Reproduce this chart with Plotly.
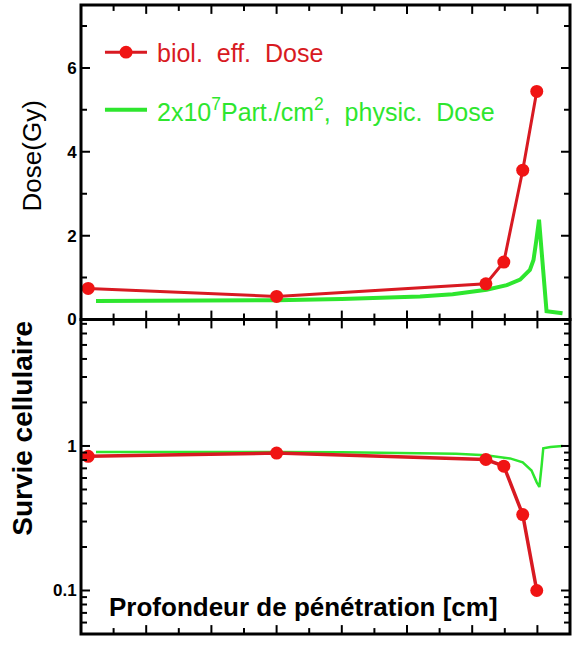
import math
import plotly.graph_objects as go
from plotly.subplots import make_subplots

# ---- data (x in tick units along penetration depth) ----
bio_x = [0.22, 6.0, 12.42, 12.97, 13.55, 13.98]
bio_dose = [0.74, 0.55, 0.85, 1.37, 3.56, 5.44]
bio_surv = [0.848, 0.893, 0.806, 0.725, 0.335, 0.10]

phys_x = [0.46, 2.0, 4.0, 6.0, 8.0, 9.4, 10.4, 11.4, 12.0, 12.44, 13.06, 13.47,
          13.77, 13.88, 13.96, 14.05, 14.28, 14.5, 14.77]
phys_dose = [0.44, 0.44, 0.45, 0.46, 0.49, 0.52, 0.55, 0.60, 0.65, 0.71, 0.82, 0.95,
             1.18, 1.42, 1.85, 2.38, 0.20, 0.17, 0.15]

surv_x = [0.46, 3.0, 6.0, 8.0, 9.8, 11.5, 12.42, 13.16, 13.55, 13.82, 13.98, 14.06,
          14.13, 14.18, 14.4, 14.77]
surv_phys = [0.91, 0.915, 0.91, 0.905, 0.90, 0.885, 0.864, 0.82, 0.77, 0.676, 0.56,
             0.52, 0.73, 0.965, 0.985, 1.0]

# tick positions
x_ticks = list(range(0, 16))
x_major = [0, 2, 4, 6, 8, 10, 12, 14]
dose_ticks = [0, 1, 2, 3, 4, 5, 6, 7]
dose_major = [0, 2, 4, 6]
surv_ticks = [0.06, 0.07, 0.08, 0.09, 0.1, 0.2, 0.3, 0.4, 0.5, 0.6, 0.7, 0.8, 0.9,
              1, 2, 3, 4, 5, 6, 7]
surv_major = [0.1, 1]
surv_labels = ["0.1", "1"]

X_RANGE = [0, 15]
DOSE_RANGE = [0, 7.5]
SURV_LOG_RANGE = [-1.301, 0.875]

RED_LINE = "#d81a22"
RED_MARK = "#f01414"
GREEN = "#2ee62e"
CLEAR = "rgba(0,0,0,0)"

fig = make_subplots(rows=2, cols=1, shared_xaxes=True, vertical_spacing=0)

fig.add_trace(go.Scatter(x=phys_x, y=phys_dose, mode="lines",
                         line=dict(color=GREEN, width=4), showlegend=False), row=1, col=1)
fig.add_trace(go.Scatter(x=bio_x, y=bio_dose, mode="lines+markers",
                         line=dict(color=RED_LINE, width=3),
                         marker=dict(color=RED_MARK, size=13), showlegend=False), row=1, col=1)
fig.add_trace(go.Scatter(x=surv_x, y=surv_phys, mode="lines",
                         line=dict(color=GREEN, width=2.5), showlegend=False), row=2, col=1)
fig.add_trace(go.Scatter(x=bio_x, y=bio_surv, mode="lines+markers",
                         line=dict(color=RED_LINE, width=3.5),
                         marker=dict(color=RED_MARK, size=13), showlegend=False), row=2, col=1)

tickfont = dict(family="Liberation Sans, Arial", size=17, color="black", weight="bold")
common = dict(ticks="", showline=True, linecolor="black", mirror=True,
              gridcolor=CLEAR, zerolinecolor=CLEAR)

for r in (1, 2):
    fig.update_xaxes(range=X_RANGE, showticklabels=False, **common, row=r, col=1)

fig.update_yaxes(range=DOSE_RANGE, tickmode="array", tickvals=dose_major,
                 ticktext=[str(v) for v in dose_major], tickfont=tickfont,
                 **common, row=1, col=1)
fig.update_yaxes(type="log", range=SURV_LOG_RANGE, tickmode="array", tickvals=surv_major,
                 ticktext=surv_labels, tickfont=tickfont, **common, row=2, col=1)

# ---- inside tick marks (major 9 px, minor 6 px), mirrored on all four sides ----
PLOT_W, PANEL_H = 489.0, 318.0
TICK = dict(color="black", width=2)


def tick_line(**kw):
    fig.add_shape(type="line", line=TICK, **kw)


for xr, ydom in (("x", "y domain"), ("x2", "y2 domain")):
    for v in x_ticks[1:-1]:
        f = (9 if v in x_major else 6) / PANEL_H
        tick_line(xref=xr, yref=ydom, x0=v, x1=v, y0=0, y1=f)
        tick_line(xref=xr, yref=ydom, x0=v, x1=v, y0=1 - f, y1=1)

for v in dose_ticks[1:]:
    f = (9 if v in dose_major else 6) / PLOT_W
    tick_line(xref="x domain", yref="y", x0=0, x1=f, y0=v, y1=v)
    tick_line(xref="x domain", yref="y", x0=1 - f, x1=1, y0=v, y1=v)

lo, hi = SURV_LOG_RANGE
for v in surv_ticks:
    fy = (math.log10(v) - lo) / (hi - lo)
    f = (9 if v in surv_major else 6) / PLOT_W
    tick_line(xref="x2 domain", yref="y2 domain", x0=0, x1=f, y0=fy, y1=fy)
    tick_line(xref="x2 domain", yref="y2 domain", x0=1 - f, x1=1, y0=fy, y1=fy)

# thick frames around both panels
for xr, yr in (("x domain", "y domain"), ("x2 domain", "y2 domain")):
    fig.add_shape(type="rect", xref=xr, yref=yr, x0=0, x1=1, y0=0, y1=1,
                  line=dict(color="black", width=3), fillcolor=CLEAR)

# legend drawn inside the upper panel
fig.add_shape(type="line", xref="paper", yref="paper", x0=0.049, x1=0.135,
              y0=0.925, y1=0.925, line=dict(color=RED_LINE, width=3))
fig.add_shape(type="circle", xref="paper", yref="paper",
              x0=0.0921 - 0.0133, x1=0.0921 + 0.0133, y0=0.925 - 0.0102, y1=0.925 + 0.0102,
              fillcolor=RED_MARK, line=dict(color=RED_MARK, width=0))
fig.add_shape(type="line", xref="paper", yref="paper", x0=0.049, x1=0.135,
              y0=0.8333, y1=0.8333, line=dict(color=GREEN, width=4))

legfont = dict(family="Liberation Sans, Arial", size=25)
fig.add_annotation(xref="paper", yref="paper", x=0.151, y=0.924, xanchor="left",
                   yanchor="middle", showarrow=False,
                   text="biol.\u00a0\u00a0eff.\u00a0\u00a0Dose", font=dict(**legfont, color=RED_LINE))
fig.add_annotation(xref="paper", yref="paper", x=0.151, y=0.833, xanchor="left",
                   yanchor="middle", showarrow=False,
                   text="2x10<sup>7</sup>Part./cm<sup>2</sup>,\u00a0\u00a0physic.\u00a0\u00a0Dose",
                   font=dict(**legfont, color=GREEN))

# axis titles
fig.add_annotation(xref="paper", yref="paper", x=-0.100, y=0.7594, xanchor="center",
                   yanchor="middle", textangle=-90, showarrow=False, text="Dose(Gy)",
                   font=dict(family="Liberation Sans, Arial", size=26, color="black"))
fig.add_annotation(xref="paper", yref="paper", x=-0.1186, y=0.3263, xanchor="center",
                   yanchor="middle", textangle=-90, showarrow=False, text="Survie cellulaire",
                   font=dict(family="Liberation Sans, Arial", size=28, color="black",
                             weight="bold"))
fig.add_annotation(xref="paper", yref="paper", x=0.456, y=0.0425, xanchor="center",
                   yanchor="middle", showarrow=False, text="Profondeur de pénétration [cm]",
                   font=dict(family="Liberation Sans, Arial", size=26, color="black",
                             weight="bold"))

fig.update_layout(width=578, height=648, margin=dict(l=81, r=8, t=4, b=8),
                  plot_bgcolor="white", paper_bgcolor="white", showlegend=False)

fig.write_html("out.html", post_script="document.body.style.margin='0';",
               config={"displayModeBar": False})
